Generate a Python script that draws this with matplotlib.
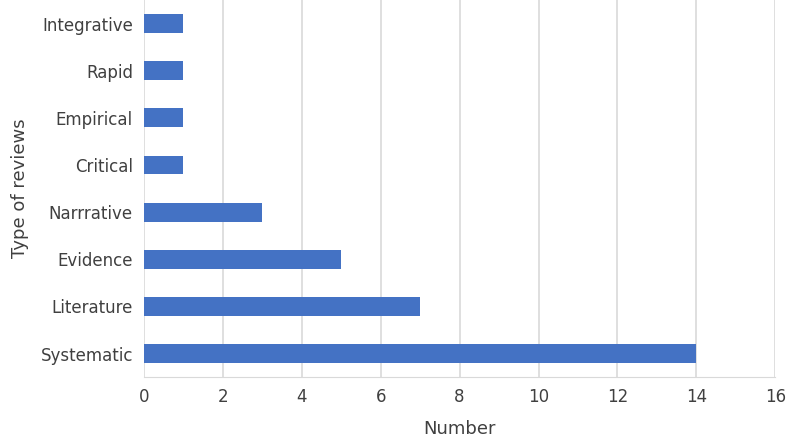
import matplotlib
matplotlib.use("Agg")
import matplotlib.pyplot as plt

categories = ["Systematic", "Literature", "Evidence", "Narrrative",
              "Critical", "Empirical", "Rapid", "Integrative"]
counts = [14, 7, 5, 3, 1, 1, 1, 1]
xticks = [0, 2, 4, 6, 8, 10, 12, 14, 16]

fig = plt.figure(figsize=(7.87, 4.48), dpi=100)
ax = fig.add_axes([0.183, 0.158, 0.802, 0.842])

ax.barh(range(len(categories)), counts, height=0.4, color="#4472C4", zorder=3)
ax.set_yticks(range(len(categories)))
ax.set_yticklabels(categories, fontsize=12, color="#404040")
ax.set_xticks(xticks)
ax.set_xticklabels([str(t) for t in xticks], fontsize=12, color="#404040")
ax.set_xlim(0, 16)
ax.set_ylim(-0.5, 7.5)
ax.grid(axis="x", color="#d9d9d9", linewidth=1.2, zorder=0)
ax.tick_params(length=0, pad=8)
for s in ["top", "right", "left"]:
    ax.spines[s].set_visible(False)
ax.spines["bottom"].set_color("#d9d9d9")

ax.set_xlabel("Number", fontsize=13, color="#404040", labelpad=10)
ax.set_ylabel("Type of reviews", fontsize=13, color="#404040", labelpad=8)

fig.savefig("out.png", dpi=100)
